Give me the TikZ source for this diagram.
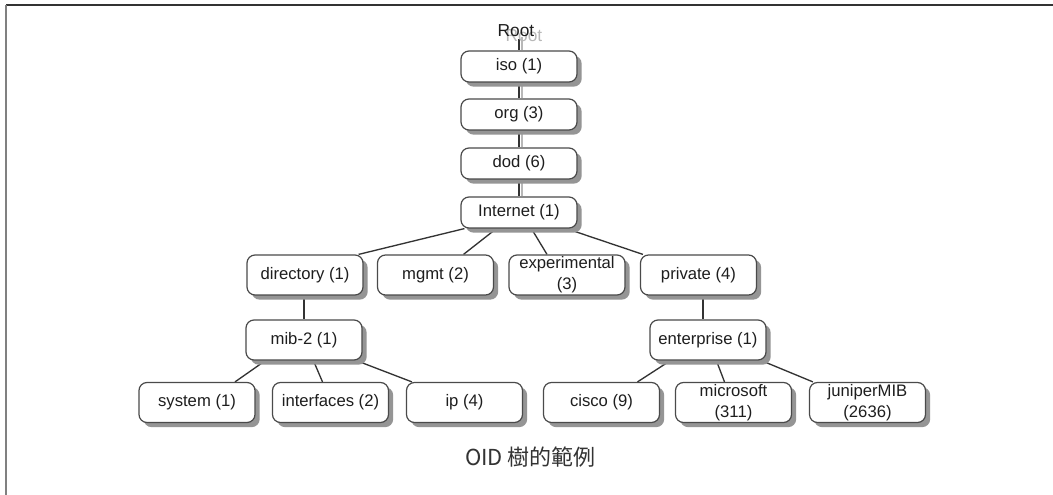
\documentclass[tikz,border=0pt]{standalone}
\usepackage{fontspec}
\setmainfont{Liberation Sans}
\newfontfamily\cjkfont{Noto Sans CJK TC}
\usetikzlibrary{shadows,calc,backgrounds}
\definecolor{edgecol}{HTML}{333333}
\definecolor{boxline}{HTML}{4A4A4A}
\definecolor{shadowcol}{HTML}{959595}
\definecolor{ghostcol}{HTML}{B8B8B8}
\definecolor{labelcol}{HTML}{1E1E1E}

\begin{document}
\begin{tikzpicture}[x=0.75pt,y=-0.75pt,
  oidbox/.style={draw=boxline, line width=0.9pt, fill=white, rounded corners=6pt,
    minimum width=87pt, minimum height=30pt, inner sep=0.5pt, align=center,
    font=\fontsize{12.5}{16}\selectfont, text=labelcol,
    drop shadow={shadow xshift=3.5pt, shadow yshift=-3.5pt, fill=shadowcol, opacity=1}},
  topbox/.style={oidbox, minimum height=23.25pt},
  link/.style={draw=edgecol, line width=1pt},
  ghostlink/.style={draw=ghostcol, line width=1pt}]

\useasboundingbox (0,0) rectangle (1053,495);

% frame
\draw[draw=black!80, line width=1.5pt] (6,5) -- (1053,5);
\draw[draw=black!50, line width=1.5pt] (6,5) -- (6,495);

% root label with its faint echo
\node[anchor=base, text=ghostcol, font=\fontsize{13}{15}\selectfont, inner sep=0pt] (rootecho) at (524,42) {Root};
\node[anchor=base, text=labelcol, font=\fontsize{13}{15}\selectfont, inner sep=0pt] (root) at (516,37) {Root};

% top chain
\node[topbox] (iso)  at (519,66.5)  {iso (1)};
\node[topbox] (org)  at (519,114.5) {org (3)};
\node[topbox] (dod)  at (519,163.5) {dod (6)};
\node[topbox] (inet) at (519,212.5) {Internet (1)};

% second level
\node[oidbox] (dir)  at (305,275)   {directory (1)};
\node[oidbox] (mgmt) at (435.5,275) {mgmt (2)};
\node[oidbox] (exp)  at (567,275)   {experimental\\(3)};
\node[oidbox] (priv) at (698.5,275) {private (4)};

% third level
\node[oidbox] (mib)  at (304,340) {mib-2 (1)};
\node[oidbox] (ent)  at (708,340) {enterprise (1)};

% leaves
\node[oidbox] (sys)   at (197,402.5)   {system (1)};
\node[oidbox] (ifs)   at (330.5,402.5) {interfaces (2)};
\node[oidbox] (ip)    at (464.5,402.5) {ip (4)};
\node[oidbox] (cisco) at (601.5,402.5) {cisco (9)};
\node[oidbox] (ms)    at (733.5,402.5) {microsoft\\(311)};
\node[oidbox] (jun)   at (867.5,402.5) {juniperMIB\\(2636)};

% caption
\node[text=black!80, inner sep=0pt] (caption) at (530.5,457)
  {\cjkfont\fontsize{16.5}{18}\selectfont OID 樹的範例};

\begin{scope}[on background layer]
  \fill[white] (0,0) rectangle (1053,495);
  % echoes of the top chain
  \draw[ghostlink] ($(iso.north |- root.south)+(3,0)$) -- ($(iso.north)+(3,0)$);
  \draw[ghostlink] ($(iso.south)+(3,0)$) -- ($(org.north)+(3,0)$);
  \draw[ghostlink] ($(org.south)+(3,0)$) -- ($(dod.north)+(3,0)$);
  \draw[ghostlink] ($(dod.south)+(3,0)$) -- ($(inet.north)+(3,0)$);
  % top chain
  \draw[link] ($(iso.north |- root.south)+(0,2)$) -- (iso.north);
  \draw[link] (iso.south) -- (org.north);
  \draw[link] (org.south) -- (dod.north);
  \draw[link] (dod.south) -- (inet.north);
  % Internet children
  \draw[link] ($(inet.south west)+(4,0)$)   -- ($(dir.north east)+(-5,0)$);
  \draw[link] ($(inet.south west)+(36,0)$)  -- ($(mgmt.north)+(28,0)$);
  \draw[link] ($(inet.south west)+(71,0)$)  -- ($(exp.north)+(-20,0)$);
  \draw[link] ($(inet.south west)+(106,0)$) -- ($(priv.north west)+(3,0)$);
  % single descents
  \draw[link] ($(dir.south)+(-1,0)$) -- (mib.north);
  \draw[link] ($(priv.south)+(4.5,0)$) -- ($(ent.north)+(-5,0)$);
  % mib-2 children
  \draw[link] ($(mib.south west)+(20,0)$)  -- ($(sys.north)+(38,0)$);
  \draw[link] ($(mib.south west)+(68,0)$)  -- ($(ifs.north)+(-8,0)$);
  \draw[link] ($(mib.south west)+(111,0)$) -- ($(ip.north west)+(6,0)$);
  % enterprise children
  \draw[link] ($(ent.south west)+(21,0)$)  -- ($(cisco.north)+(36,0)$);
  \draw[link] ($(ent.south west)+(67,0)$)  -- ($(ms.north)+(-9,0)$);
  \draw[link] ($(ent.south west)+(112,0)$) -- ($(jun.north west)+(4,0)$);
\end{scope}
\end{tikzpicture}
\end{document}
